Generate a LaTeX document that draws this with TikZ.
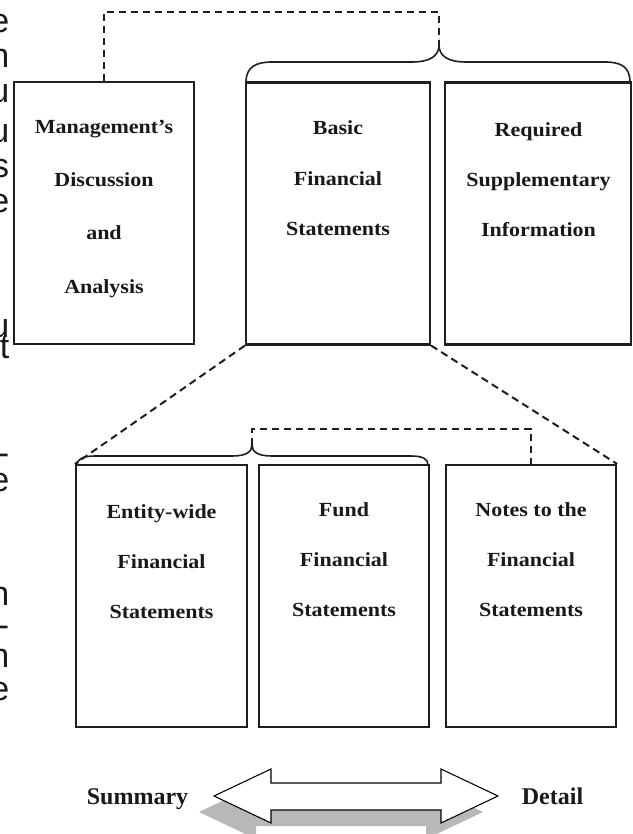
\documentclass[tikz,border=0pt]{standalone}
\usepackage{fontspec}
\setmainfont{Liberation Serif}
\newfontfamily\boxfont[FakeStretch=1.1]{Liberation Serif}
\newfontfamily\fragfont{Liberation Sans}
\usetikzlibrary{calc}
\begin{document}
\begin{tikzpicture}[x=0.75pt,y=-0.75pt,
  box/.style={draw=black!88, line width=1.6pt, minimum height=196.5pt, inner sep=0pt},
  btext/.style={font={\boxfont\bfseries\fontsize{15}{37.5}\selectfont}, align=center, anchor=base, inner sep=0pt, text=black!90},
  wtext/.style={font={\boxfont\bfseries\fontsize{15}{40}\selectfont}, align=center, anchor=base, inner sep=0pt, text=black!90},
  endlbl/.style={font={\bfseries\fontsize{18}{20}\selectfont}, anchor=base, inner sep=0pt, text=black!90},
  dashline/.style={line width=1.5pt, draw=black!88, dash pattern=on 5.5pt off 3.5pt},
  bracepath/.style={line width=1.2pt, draw=black!88},
  frag/.style={font={\fragfont\fontsize{25.5}{30}\selectfont}, anchor=base east, inner sep=0pt, text=black!90}]
\useasboundingbox (0,0) rectangle (632,834);

% fragments of neighbouring text at the left edge
\begin{scope}
\clip (0,0) rectangle (632,834);
\node[frag] (f1) at (9.5,33) {e};
\node[frag] (f2) at (9.5,68) {n};
\node[frag] (f3) at (9.5,103) {u};
\node[frag] (f4) at (9.5,143) {u};
\node[frag] (f5) at (9.5,178) {s};
\node[frag] (f6) at (9.5,213) {e};
\node[frag] (f7) at (9.5,337) {u};
\node[frag] (f8) at (9.5,358) {t};
\node[frag] (f9) at (9.5,464) {-};
\node[frag] (f10) at (9.5,491) {e};
\node[frag] (f11) at (9.5,605) {n};
\node[frag] (f12) at (9.5,636) {-};
\node[frag] (f13) at (9.5,667) {n};
\node[frag] (f14) at (9.5,700) {e};
\end{scope}

% top row boxes
\node[box, minimum width=135pt] (mda) at (104,213) {};
\node[box, minimum width=138pt] (bfs) at (338,213.5) {};
\node[box, minimum width=139pt] (rsi) at (538,213.5) {};
% bottom row boxes
\node[box, minimum width=128.25pt] (ews) at (161.5,596) {};
\node[box, minimum width=127.5pt] (ffs) at (344,596) {};
\node[box, minimum width=127.5pt] (nfs) at (531,596) {};

% texts (anchor base = baseline of the last line)
\node[wtext] (tmda) at (104,293) {Management’s\\Discussion\\and\\Analysis};
\node[btext] (tbfs) at (338,235) {Basic\\Financial\\Statements};
\node[btext] (trsi) at (538.5,237) {Required\\Supplementary\\Information};
\node[btext] (tews) at (161.5,618) {Entity-wide\\Financial\\Statements};
\node[btext] (tffs) at (344,616) {Fund\\Financial\\Statements};
\node[btext] (tnfs) at (531,616) {Notes to the\\Financial\\Statements};

% braces
\coordinate (tipA) at (439,45);
\coordinate (topA) at (439,12);
\coordinate (tipB) at (252,445);
\coordinate (topB) at (531,429);
\draw[bracepath] (246,82) .. controls (246,67) and (256,62) .. (272,62) -- (412,62)
  .. controls (430,62) and (439,56) .. (tipA)
  .. controls (439,56) and (448,62) .. (466,62) -- (605,62)
  .. controls (621,62) and (630,67) .. (630,82);
\draw[bracepath] (77,465) .. controls (77,459) and (83,456) .. (95,456) -- (232,456)
  .. controls (246,456) and (252,452) .. (tipB)
  .. controls (252,452) and (258,456) .. (272,456) -- (411,456)
  .. controls (423,456) and (428,459) .. (428,465);

% dashed connectors
\draw[dashline] (mda.north) |- (topA) -- (tipA);
\draw[dashline] (tipB) |- (topB) -- (nfs.north);
\draw[dashline] (bfs.south west) -- (ews.north west);
\draw[dashline] (bfs.south east) -- (nfs.north east);

% double arrow with shadow
\fill[black!28, shift={(-15,16)}] (214,796) -- (271,769) -- (271,783) -- (441,783) -- (441,769) -- (498,796)
  -- (441,823) -- (441,810) -- (271,810) -- (271,823) -- cycle;
\draw[line width=0.8pt, fill=white] (214,796) -- (271,769) -- (271,783) -- (441,783) -- (441,769) -- (498,796)
  -- (441,823) -- (441,810) -- (271,810) -- (271,823) -- cycle;

\node[endlbl] (sum) at (137.5,804) {Summary};
\node[endlbl] (det) at (552.5,804) {Detail};
\end{tikzpicture}
\end{document}
